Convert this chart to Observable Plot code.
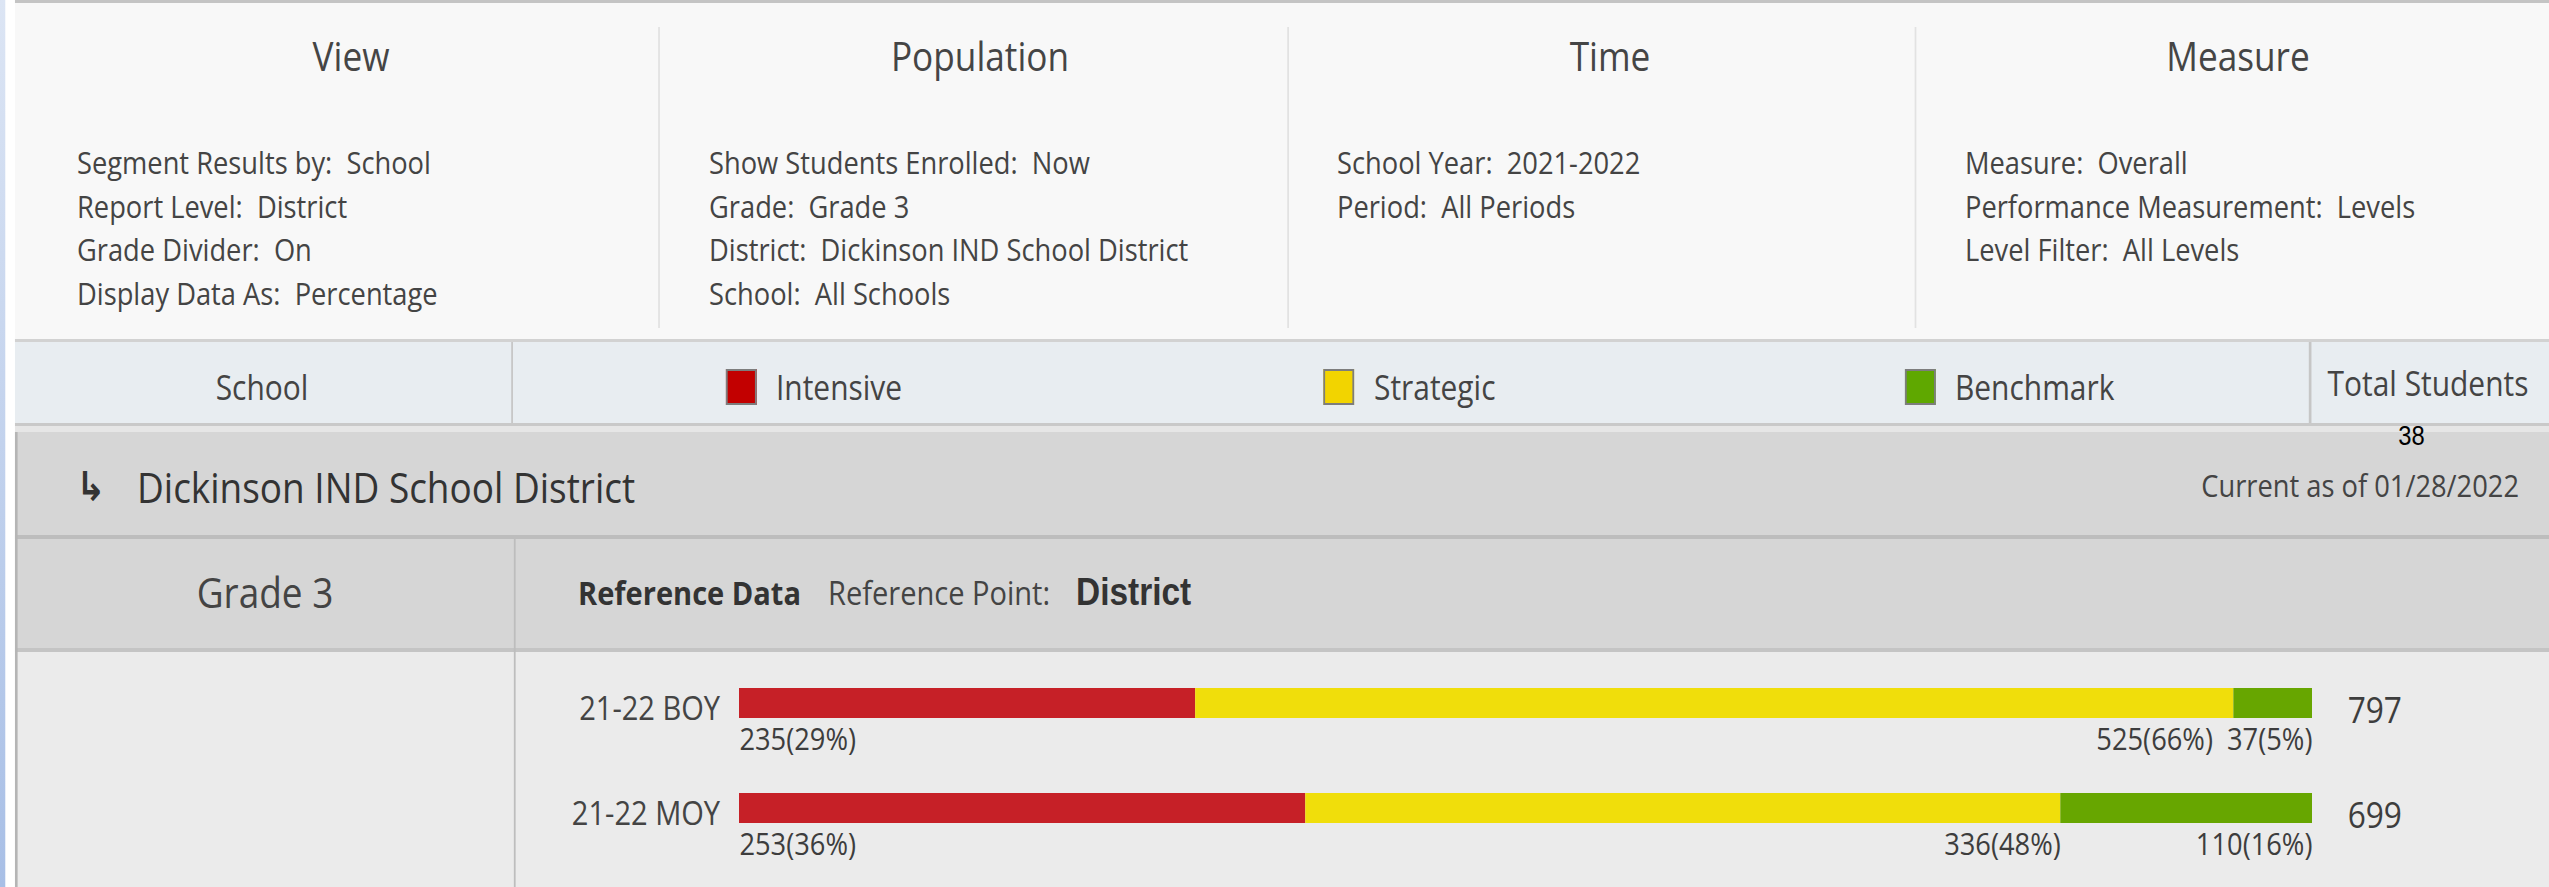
<!DOCTYPE html>
<html><head><meta charset="utf-8">
<script src="https://cdn.jsdelivr.net/npm/d3@7"></script>
<script src="https://cdn.jsdelivr.net/npm/@observablehq/plot@0.6"></script>
<style>
html,body{margin:0;padding:0;background:#fff;overflow:hidden;width:2549px;height:887px}
#wrap{position:absolute;left:0;top:0;width:2897px;height:887px;transform:scaleX(0.87988);transform-origin:0 0;font-family:"Open Sans",sans-serif;color:#3d3d3d}
.box{position:absolute}
.t{position:absolute;white-space:nowrap;line-height:1}
#chart{position:absolute;left:0;top:653px;width:2897px;height:234px}
</style></head><body><div id="wrap"><div id="chart"></div></div>
<script>
// ---- data ----
const periods = ["21-22 BOY", "21-22 MOY"];
const levels = ["Intensive", "Strategic", "Benchmark"];
const levelColors = ["#c62027", "#f0de0b", "#67a600"];
const swatchColors = ["#c20000", "#f2d400", "#5fa800"];
const boyCounts = [235, 525, 37];
const boyPct = [29, 66, 5];
const moyCounts = [253, 336, 110];
const moyPct = [36, 48, 16];
const totals = [797, 699];
const viewItems = ["Segment Results by:  School", "Report Level:  District", "Grade Divider:  On", "Display Data As:  Percentage"];
const populationItems = ["Show Students Enrolled:  Now", "Grade:  Grade 3", "District:  Dickinson IND School District", "School:  All Schools"];
const timeItems = ["School Year:  2021-2022", "Period:  All Periods"];
const measureItems = ["Measure:  Overall", "Performance Measurement:  Levels", "Level Filter:  All Levels"];
const panelTitles = ["View", "Population", "Time", "Measure"];

const S = 0.87988, R = 1 / S, VW = 2897;
const wrap = document.getElementById("wrap");
function box(x, y, w, h, bg) {
  const d = document.createElement("div"); d.className = "box";
  Object.assign(d.style, {left: x + "px", top: y + "px", width: w + "px", height: h + "px", background: bg});
  wrap.insertBefore(d, document.getElementById("chart")); return d;
}
function txt(s, xr, baseline, size, o = {}) {
  const d = document.createElement("div"); d.className = "t"; d.textContent = s;
  d.style.whiteSpace = "pre";
  let k = 0.888;
  if (o.arial) { d.style.fontFamily = '"Liberation Sans", Arial, sans-serif'; k = 0.8465; }
  if (o.dejavu) { d.style.fontFamily = '"DejaVu Sans", sans-serif'; k = 0.846; }
  d.style.fontSize = size + "px"; d.style.fontWeight = o.weight || 400; d.style.color = o.color || "#3d3d3d";
  d.style.top = (baseline - k * size) + "px";
  d.style.left = (xr * R) + "px";
  const a = o.anchor || "start";
  if (a === "middle") d.style.transform = "translateX(-50%)";
  if (a === "end") d.style.transform = "translateX(-100%)";
  wrap.appendChild(d);
}

// ---- chrome ----
box(0, 0, 5 * R, 887, "linear-gradient(#dce5f4,#a8bfe6)");
box(15 * R, 0, VW, 3, "#c4c4c4");
box(15 * R, 3, VW, 337, "#f8f8f8");
[658, 1287, 1915].forEach(x => box(x * R, 27, 2, 301, "#e2e2e2"));
box(15 * R, 339, VW, 3, "#d2d2d2");
box(15 * R, 342, VW, 81, "#e8edf1");
box(15 * R, 423, VW, 3, "#c9c9c9");
[511, 2309].forEach(x => box(x * R, 342, 2.3, 81, "#c6c6c6"));
box(15 * R, 426, VW, 6, "#e6e6e6");
box(15 * R, 432, VW, 103, "#d6d6d6");
box(15 * R, 535, VW, 4, "#bdbdbd");
box(15 * R, 539, VW, 109, "#d6d6d6");
box(15 * R, 648, VW, 4, "#c4c4c4");
box(15 * R, 652, VW, 235, "#ebebeb");
box(15 * R, 432, 3.4, 455, "#b5b5b5");
box(514 * R, 539, 2.3, 348, "#bdbdbd");

const titleX = [351, 980, 1610, 2238];
const colX = [77, 709, 1337, 1965];
[viewItems, populationItems, timeItems, measureItems].forEach((items, c) => {
  txt(panelTitles[c], titleX[c], 72, 40, {anchor: "middle", color: "#454545"});
  items.forEach((s, i) => txt(s, colX[c], 175 + i * 43.5, 31, {color: "#444"}));
});

txt("School", 262, 400, 34, {anchor: "middle", color: "#444"});
const swX = [726, 1323, 1905], labX = [776, 1374, 1955];
levels.forEach((l, i) => {
  const b = box(swX[i] * R, 369, 31 * R, 36, swatchColors[i]);
  b.style.boxSizing = "border-box"; b.style.border = "2px solid #7d7d7d";
  txt(l, labX[i], 400, 34, {color: "#444"});
});
txt("Total Students", 2428, 396, 34, {anchor: "middle", color: "#444"});
txt("38", 2411.5, 446, 27, {anchor: "middle", arial: true, color: "#000"});
txt("\u21b3", 76, 500, 40, {dejavu: true, weight: 700, color: "#333"});
txt("Dickinson IND School District", 137, 503, 42, {color: "#333"});
txt("Current as of 01/28/2022", 2519, 498, 31, {anchor: "end", color: "#444"});
txt("Grade 3", 265, 608, 42, {anchor: "middle", color: "#444"});
txt("Reference Data", 578, 605, 33, {weight: 700, color: "#333"});
txt("Reference Point:", 828, 605, 33, {color: "#444"});
txt("District", 1076, 605, 38, {arial: true, weight: 700, color: "#333"});

// ---- chart ----
const counts = [boyCounts, moyCounts], pcts = [boyPct, moyPct];
const data = [];
periods.forEach((p, i) => levels.forEach((l, j) => data.push({period: p, level: l, count: counts[i][j], pct: pcts[i][j]})));

const X0 = 739 * R, X1 = 2312 * R, ppu = (X1 - X0) / 100, LABEL_SIZE = 31, GAP = 16;
const ctx = document.createElement("canvas").getContext("2d");
ctx.font = LABEL_SIZE + 'px "Open Sans"';
const labels = [];
periods.forEach((p, i) => {
  let cum = 0; const ends = pcts[i].map(v => cum += v);
  const texts = counts[i].map((n, j) => `${n}(${pcts[i][j]}%)`);
  let limit = Infinity;
  for (let j = texts.length - 1; j >= 1; j--) {
    const right = Math.min(X0 + ends[j] * ppu, limit);
    limit = right - ctx.measureText(texts[j]).width - GAP;
    labels.push({period: p, x: (right - X0) / ppu, text: texts[j], anchor: "end"});
  }
  labels.push({period: p, x: 0, text: texts[0], anchor: "start"});
});
const totalRows = periods.map((p, i) => ({period: p, total: totals[i], end: d3.sum(pcts[i])}));

const chart = Plot.plot({
  width: VW, height: 234,
  marginLeft: X0, marginRight: VW - X1, marginTop: 0, marginBottom: 0,
  x: {domain: [0, 100], axis: null},
  y: {domain: periods, range: [-2.5, 207.5], padding: 0, round: false},
  color: {domain: levels, range: levelColors},
  style: {background: "transparent", fontFamily: '"Open Sans", sans-serif', overflow: "visible", color: "#444"},
  marks: [
    Plot.barX(data, {y: "period", x: "pct", fill: "level", insetTop: 37.5, insetBottom: 37.5}),
    Plot.axisY({tickSize: 0, tickPadding: 22, fontSize: 33, dy: 6, label: null, fill: "#444"}),
    Plot.text(labels.filter(d => d.anchor === "start"), {x: "x", y: "period", text: "text", textAnchor: "start", lineAnchor: "bottom", dy: 46, fontSize: LABEL_SIZE, fill: "#3d3d3d"}),
    Plot.text(labels.filter(d => d.anchor === "end"), {x: "x", y: "period", text: "text", textAnchor: "end", lineAnchor: "bottom", dy: 46, fontSize: LABEL_SIZE, fill: "#3d3d3d"}),
    Plot.text(totalRows, {x: "end", y: "period", text: d => String(d.total), textAnchor: "start", lineAnchor: "bottom", dx: 40, dy: 19, fontSize: 36, fill: "#3d3d3d"})
  ]
});
document.getElementById("chart").appendChild(chart);
</script>
</body></html>
